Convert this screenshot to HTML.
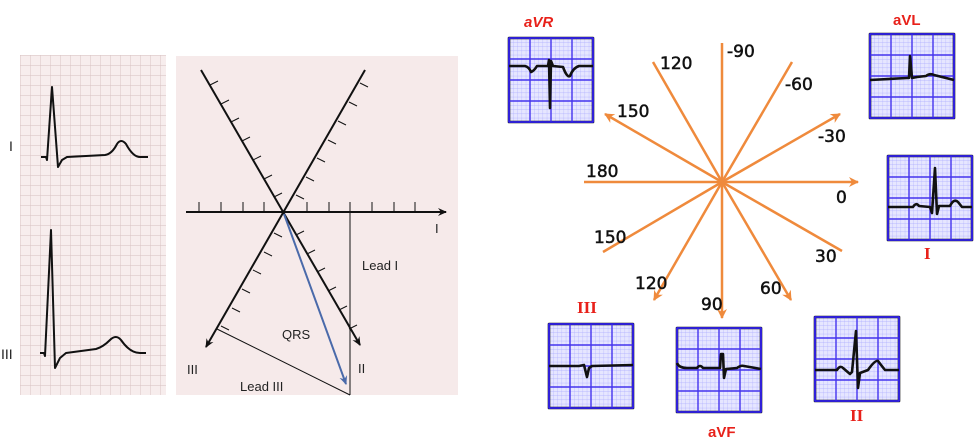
<!DOCTYPE html>
<html><head><meta charset="utf-8"><style>
html,body{margin:0;padding:0;background:#fff;}
svg{display:block;}
text{font-family:"Liberation Sans",sans-serif;}
.n{font-family:'DejaVu Sans',sans-serif;font-size:17px;fill:#111;stroke:#111;stroke-width:0.5;}
.r{font-family:'Liberation Serif',serif;}
</style></head><body>
<svg width="977" height="438" viewBox="0 0 977 438" xmlns="http://www.w3.org/2000/svg">
<defs>
<pattern id="pg" x="20" y="55" width="10" height="10" patternUnits="userSpaceOnUse">
<rect width="10" height="10" fill="#f7eded"/>
<path d="M0 0H10M0 0V10" stroke="#d6c0c0" stroke-width="0.9"/>
</pattern>
<pattern id="bg" width="4.2" height="4.2" patternUnits="userSpaceOnUse">
<rect width="4.2" height="4.2" fill="#e6e6ff"/>
<path d="M0 0H4.2M0 0V4.2" stroke="#a8a8ff" stroke-width="0.6"/>
</pattern>
<marker id="ak" markerWidth="10" markerHeight="10" refX="8" refY="5" orient="auto" markerUnits="userSpaceOnUse"><path d="M0 1L9 5L0 9L3 5Z" fill="#111"/></marker>
<marker id="ab" markerWidth="10" markerHeight="10" refX="8" refY="5" orient="auto" markerUnits="userSpaceOnUse"><path d="M0 1L9 5L0 9L3 5Z" fill="#4a6aaa"/></marker>
<marker id="ao" markerWidth="12" markerHeight="12" refX="9" refY="6" orient="auto" markerUnits="userSpaceOnUse"><path d="M0 1L10 6L0 11L3 6Z" fill="#ef8a3c"/></marker>
<g id="box">
<rect x="0" y="0" width="84" height="84" fill="url(#bg)"/>
<path d="M21 0V84M42 0V84M63 0V84M0 21H84M0 42H84M0 63H84" stroke="#4433ee" stroke-width="1.4"/>
<rect x="0" y="0" width="84" height="84" fill="none" stroke="#3322ee" stroke-width="1.8"/>
</g>
</defs>

<rect x="20" y="55" width="146" height="340" fill="url(#pg)"/>
<g fill="none" stroke="#111" stroke-width="2" stroke-linejoin="round">
<path d="M41 157L46 157L47 160L52 87L58 167L62 160L67 157L105 155Q112 154 117 144Q121 138 126 144Q133 157 140 157L148 157"/>
<path d="M40 353L44 353L45 356L51 230L55 368L60 358L66 353L96 349Q103 347 110 340Q116 334 121 340Q130 353 140 353L146 353"/>
</g>
<text x="9" y="151" font-size="14" fill="#222">I</text>
<text x="1" y="359" font-size="14" fill="#222">III</text>

<rect x="176" y="56" width="282" height="339" fill="#f6eaea"/>
<g stroke="#111" stroke-width="2" fill="none">
<line x1="186" y1="212" x2="446" y2="212" marker-end="url(#ak)"/>
<line x1="201" y1="70" x2="360" y2="345" marker-end="url(#ak)"/>
<line x1="365" y1="70" x2="206" y2="347" marker-end="url(#ak)"/>
</g>
<g stroke="#111" stroke-width="1">
<path d="M199 212v-10M221 212v-10M243 212v-10M264 212v-10M307 212v-10M329 212v-10M350 212v-10M372 212v-10M394 212v-10M415 212v-10"/>
<path d="M210 85l8-4M221 104l8-4M231 122l8-4M242 141l8-4M253 160l8-4M264 179l8-4M274 197l8-4M296 235l8-4M307 254l8-4M317 272l8-4M328 291l8-4M339 310l8-4M349 329l8-4"/>
<path d="M360 83l8 4M349 102l8 4M338 121l8 4M328 140l8 4M317 158l8 4M306 177l8 4M296 195l8 4M274 233l8 4M264 252l8 4M253 270l8 4M242 289l8 4M232 308l8 4M221 326l8 4"/>
<line x1="350" y1="212" x2="350" y2="395"/>
<line x1="217" y1="329" x2="350" y2="395"/>
</g>
<line x1="284" y1="214" x2="346" y2="384" stroke="#4a6aaa" stroke-width="2" marker-end="url(#ab)"/>
<g font-size="13" fill="#222">
<text x="435" y="233">I</text>
<text x="362" y="270">Lead I</text>
<text x="282" y="339">QRS</text>
<text x="187" y="374">III</text>
<text x="358" y="373">II</text>
<text x="240" y="391">Lead III</text>
</g>

<g stroke="#ef8a3c" stroke-width="2.5" fill="none">
<line x1="722" y1="182" x2="722" y2="43"/>
<line x1="722" y1="182" x2="792" y2="62"/>
<line x1="722" y1="182" x2="840" y2="114" marker-end="url(#ao)"/>
<line x1="722" y1="182" x2="858" y2="182" marker-end="url(#ao)"/>
<line x1="722" y1="182" x2="842" y2="251"/>
<line x1="722" y1="182" x2="791" y2="300" marker-end="url(#ao)"/>
<line x1="722" y1="182" x2="722" y2="318" marker-end="url(#ao)"/>
<line x1="722" y1="182" x2="654" y2="300" marker-end="url(#ao)"/>
<line x1="722" y1="182" x2="603" y2="252"/>
<line x1="722" y1="182" x2="584" y2="182"/>
<line x1="722" y1="182" x2="605" y2="114" marker-end="url(#ao)"/>
<line x1="722" y1="182" x2="653" y2="62"/>
</g>
<text class="n" x="727" y="57">-90</text>
<text class="n" x="660" y="69">120</text>
<text class="n" x="785" y="90">-60</text>
<text class="n" x="617" y="117">150</text>
<text class="n" x="818" y="142">-30</text>
<text class="n" x="586" y="177">180</text>
<text class="n" x="836" y="203">0</text>
<text class="n" x="594" y="243">150</text>
<text class="n" x="815" y="262">30</text>
<text class="n" x="635" y="289">120</text>
<text class="n" x="760" y="294">60</text>
<text class="n" x="701" y="310">90</text>

<g fill="none" stroke="#111" stroke-width="2.6" stroke-linejoin="round">
<g transform="translate(509,38)"><use href="#box"/><path d="M0 28L16 28Q20 29 22 34Q25 33 28 28L39 28L40 22L41 70L42 23L44 28L54 29Q58 40 61 38Q64 30 70 28L84 28"/></g>
<g transform="translate(870,34)"><use href="#box"/><path d="M0 46L37 44L39 44L40 22L42 44L47 43L56 42Q60 39 64 41L84 46"/></g>
<g transform="translate(888,156)"><use href="#box"/><path d="M0 51L25 51Q28 46 31 50L42 51L44 57L47 12L49 58L51 50L62 50Q66 42 70 46L74 51L84 51"/></g>
<g transform="translate(549,324)"><use href="#box"/><path d="M0 42L30 42L35 41L38 53L40 44L43 42L84 41"/></g>
<g transform="translate(677,328)"><use href="#box"/><path d="M0 35Q2 40 10 40L20 40Q23 36 26 40L43 40L44 26L46 26L47 50L49 41L60 40Q64 37 67 38L84 41"/></g>
<g transform="translate(815,317)"><use href="#box"/><path d="M0 53L22 53Q25 48 28 51L35 57L37 55L41 14L43 71L45 56L53 53Q60 43 63 44Q66 48 70 53L84 53"/></g>
</g>
<g fill="#e8211a" font-weight="bold">
<text x="524" y="27" font-size="15" font-style="italic">aVR</text>
<text x="893" y="25" font-size="15">aVL</text>
<text class="r" x="924" y="259" font-size="17">I</text>
<text class="r" x="577" y="313" font-size="17">III</text>
<text x="708" y="437" font-size="15">aVF</text>
<text class="r" x="850" y="421" font-size="17">II</text>
</g>
</svg>
</body></html>
